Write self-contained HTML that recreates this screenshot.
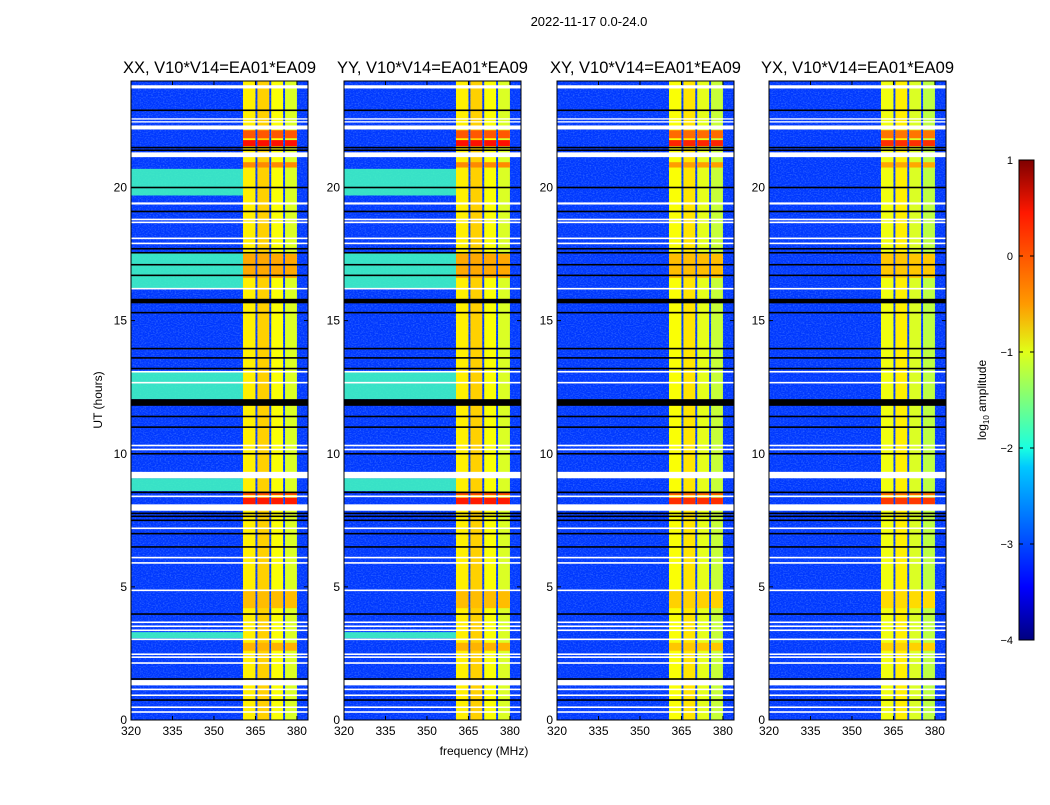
<!DOCTYPE html>
<html><head><meta charset="utf-8">
<style>
html,body{margin:0;padding:0;background:#fff;}
body{width:1050px;height:800px;overflow:hidden;font-family:"Liberation Sans",sans-serif;}
svg text{font-family:"Liberation Sans",sans-serif;}
</style></head>
<body>
<svg id="chart" width="1050" height="800" viewBox="0 0 1050 800" xmlns="http://www.w3.org/2000/svg">
<defs>
<linearGradient id="jet" x1="0" y1="1" x2="0" y2="0">
<stop offset="0" stop-color="#00007f"/><stop offset="0.11" stop-color="#0000ff"/>
<stop offset="0.36" stop-color="#00c8ff"/><stop offset="0.4" stop-color="#1affe0"/>
<stop offset="0.6" stop-color="#e0ff18"/><stop offset="0.7" stop-color="#ff9a00"/>
<stop offset="0.89" stop-color="#ff1800"/><stop offset="1" stop-color="#7f0000"/>
</linearGradient>
<filter id="noise" x="0" y="0" width="1" height="1">
<feTurbulence type="fractalNoise" baseFrequency="0.6 0.9" numOctaves="1" seed="3"/>
<feColorMatrix values="0 0 0 0 0.3  0 0 0 0 0.6  0 0 0 0 1  0 0 0 0.8 -0.35"/>
</filter>
</defs>
<text x="589" y="26" font-size="13" text-anchor="middle">2022-11-17 0.0-24.0</text>
<text x="484" y="755" font-size="12" text-anchor="middle">frequency (MHz)</text>
<text transform="translate(102,400) rotate(-90)" font-size="12" text-anchor="middle">UT (hours)</text>
<g id="panels"></g>
<g id="cbar">
<rect x="1019" y="160" width="15" height="480" fill="url(#jet)" stroke="#000" stroke-width="1"/>
</g>
<text transform="translate(986,400) rotate(-90)" font-size="12" text-anchor="middle">log<tspan font-size="8" dy="3">10</tspan><tspan dy="-3"> amplitude</tspan></text>
</svg>
<script>
// ---- data ----
const panelTitles = ["XX, V10*V14=EA01*EA09","YY, V10*V14=EA01*EA09","XY, V10*V14=EA01*EA09","YX, V10*V14=EA01*EA09"];
const panelLefts = [131, 344, 557, 769];
const xTicks = [320, 335, 350, 365, 380];
const yTicks = [0, 5, 10, 15, 20];
const cbarTicks = [-4, -3, -2, -1, 0, 1];
const whiteRows = [[23.72,23.84],[22.55,22.6],[22.44,22.49],[22.18,22.33],[21.14,21.32],[19.36,19.44],[18.77,18.83],[18.66,18.72],[18.06,18.12],[17.87,17.93],[16.17,16.23],[13.05,13.11],[12.64,12.7],[10.28,10.34],[10.13,10.19],[9.08,9.32],[8.37,8.43],[7.86,8.1],[7.17,7.23],[6.07,6.13],[5.87,5.93],[4.84,4.9],[3.64,3.7],[3.49,3.55],[3.34,3.4],[3.0,3.06],[2.44,2.5],[2.33,2.39],[2.11,2.17],[1.3,1.5],[1.12,1.18],[0.9,0.96],[0.45,0.51],[0.27,0.33]];
const blackRows = [[22.87,22.93],[21.47,21.53],[21.37,21.43],[19.97,20.03],[19.07,19.13],[17.67,17.73],[17.52,17.58],[17.07,17.13],[16.67,16.73],[15.65,15.82],[15.27,15.33],[13.92,13.98],[13.57,13.63],[13.17,13.23],[11.8,12.05],[11.37,11.43],[10.97,11.03],[9.97,10.03],[8.52,8.58],[7.73,7.79],[7.62,7.68],[7.47,7.53],[6.97,7.03],[6.47,6.53],[3.95,4.01],[1.51,1.57],[0.72,0.78]];
const cyanRows = [[19.7,20.7],[16.2,17.55],[12.05,13.1],[8.6,9.08],[3.07,3.3]];
const hotRows = [[21.55,21.78,0.3],[21.85,22.15,-0.05],[20.75,20.95,-0.3],[16.6,17.5,-0.45],[8.1,8.35,0.25],[8.45,8.55,0.0],[4.2,4.9,-0.55],[2.6,2.9,-0.5]];
const bandCols = [[360.5,365,-0.8],[365.7,370,-0.65],[370.7,375,-0.9],[375.7,380,-1.05]];
const crossOffset = [0, 0, -0.1, -0.15];

// ---- scales ----
const X0=320, X1=384, PW=177, YT=81, YB=720;
function sx(f,left){return left+(f-X0)/(X1-X0)*PW;}
function sy(h){return YB-(h/24)*(YB-YT);}
function jet(v){
  let t=(v+4)/5; t=Math.max(0,Math.min(1,t));
  const r=Math.max(0,Math.min(1,1.5-Math.abs(4*t-3))), g=Math.max(0,Math.min(1,1.5-Math.abs(4*t-2))), b=Math.max(0,Math.min(1,1.5-Math.abs(4*t-1)));
  return `rgb(${Math.round(r*255)},${Math.round(g*255)},${Math.round(b*255)})`;
}
const NS="http://www.w3.org/2000/svg";
function mk(tag,attrs,parent){const e=document.createElementNS(NS,tag);for(const k in attrs)e.setAttribute(k,attrs[k]);parent.appendChild(e);return e;}
const root=document.getElementById('panels');

panelTitles.forEach((title,p)=>{
  const L=panelLefts[p];
  const g=mk('g',{},root);
  
  
  const base=mk('rect',{x:L,y:YT,width:PW,height:YB-YT,fill:jet(-3.1)},g);
  
  
  const nz=mk('rect',{x:L,y:YT,width:PW,height:YB-YT,fill:'#000',filter:'url(#noise)'},g);
  
  
  if(p<2){
    cyanRows.forEach(r=>{
      const e=mk('rect',{x:L,y:sy(r[1]),width:sx(360.5,L)-L,height:sy(r[0])-sy(r[1]),fill:jet(-1.8),opacity:0.85},g);
      
      
    });
  }
  bandCols.forEach(c=>{
    const e=mk('rect',{x:sx(c[0],L),y:YT,width:sx(c[1],L)-sx(c[0],L),height:YB-YT,fill:jet(c[2]+crossOffset[p])},g);
    
    
    hotRows.forEach(r=>{
      const h=mk('rect',{x:sx(c[0],L),y:sy(r[1]),width:sx(c[1],L)-sx(c[0],L),height:sy(r[0])-sy(r[1]),fill:jet(r[2]+crossOffset[p])},g);
      
      
    });
  });
  whiteRows.forEach(r=>{
    const e=mk('rect',{x:L,y:sy(r[1]),width:PW,height:Math.max(1.2,sy(r[0])-sy(r[1])),fill:'#fff'},g);
    
    
  });
  blackRows.forEach(r=>{
    const e=mk('rect',{x:L,y:sy(r[1]),width:PW,height:Math.max(1,sy(r[0])-sy(r[1])),fill:'#000'},g);
    
    
  });
  const fr=mk('rect',{x:L,y:YT,width:PW,height:YB-YT,fill:'none',stroke:'#000','stroke-width':1},g);
  
  
  const t=mk('text',{x:L+PW/2,y:73,'font-size':16.5,'text-anchor':'middle'},g);
  t.textContent=title;
  
  
  xTicks.forEach(v=>{
    const x=sx(v,L);
    mk('line',{x1:x,x2:x,y1:YB,y2:YB-4,stroke:'#000'},g);
    mk('line',{x1:x,x2:x,y1:YT,y2:YT+4,stroke:'#000'},g);
    const tx=mk('text',{x:x,y:YB+15,'font-size':12,'text-anchor':'middle'},g);
    tx.textContent=v;
    
    
  });
  yTicks.forEach(v=>{
    const y=sy(v);
    mk('line',{x1:L,x2:L+4,y1:y,y2:y,stroke:'#000'},g);
    mk('line',{x1:L+PW,x2:L+PW-4,y1:y,y2:y,stroke:'#000'},g);
    const tx=mk('text',{x:L-4,y:y+4,'font-size':12,'text-anchor':'end'},g);
    tx.textContent=v;
    
    
  });
});
const cb=document.getElementById('cbar');
cbarTicks.forEach(v=>{
  const y=640-(v+4)/5*480;
  mk('line',{x1:1019,x2:1023,y1:y,y2:y,stroke:'#000'},cb);
  mk('line',{x1:1034,x2:1030,y1:y,y2:y,stroke:'#000'},cb);
  const tx=mk('text',{x:1013,y:y+4,'font-size':11,'text-anchor':'end'},cb);
  tx.textContent=v<0?'\u2212'+(-v):String(v);
  
  
});
</script>
</body></html>
